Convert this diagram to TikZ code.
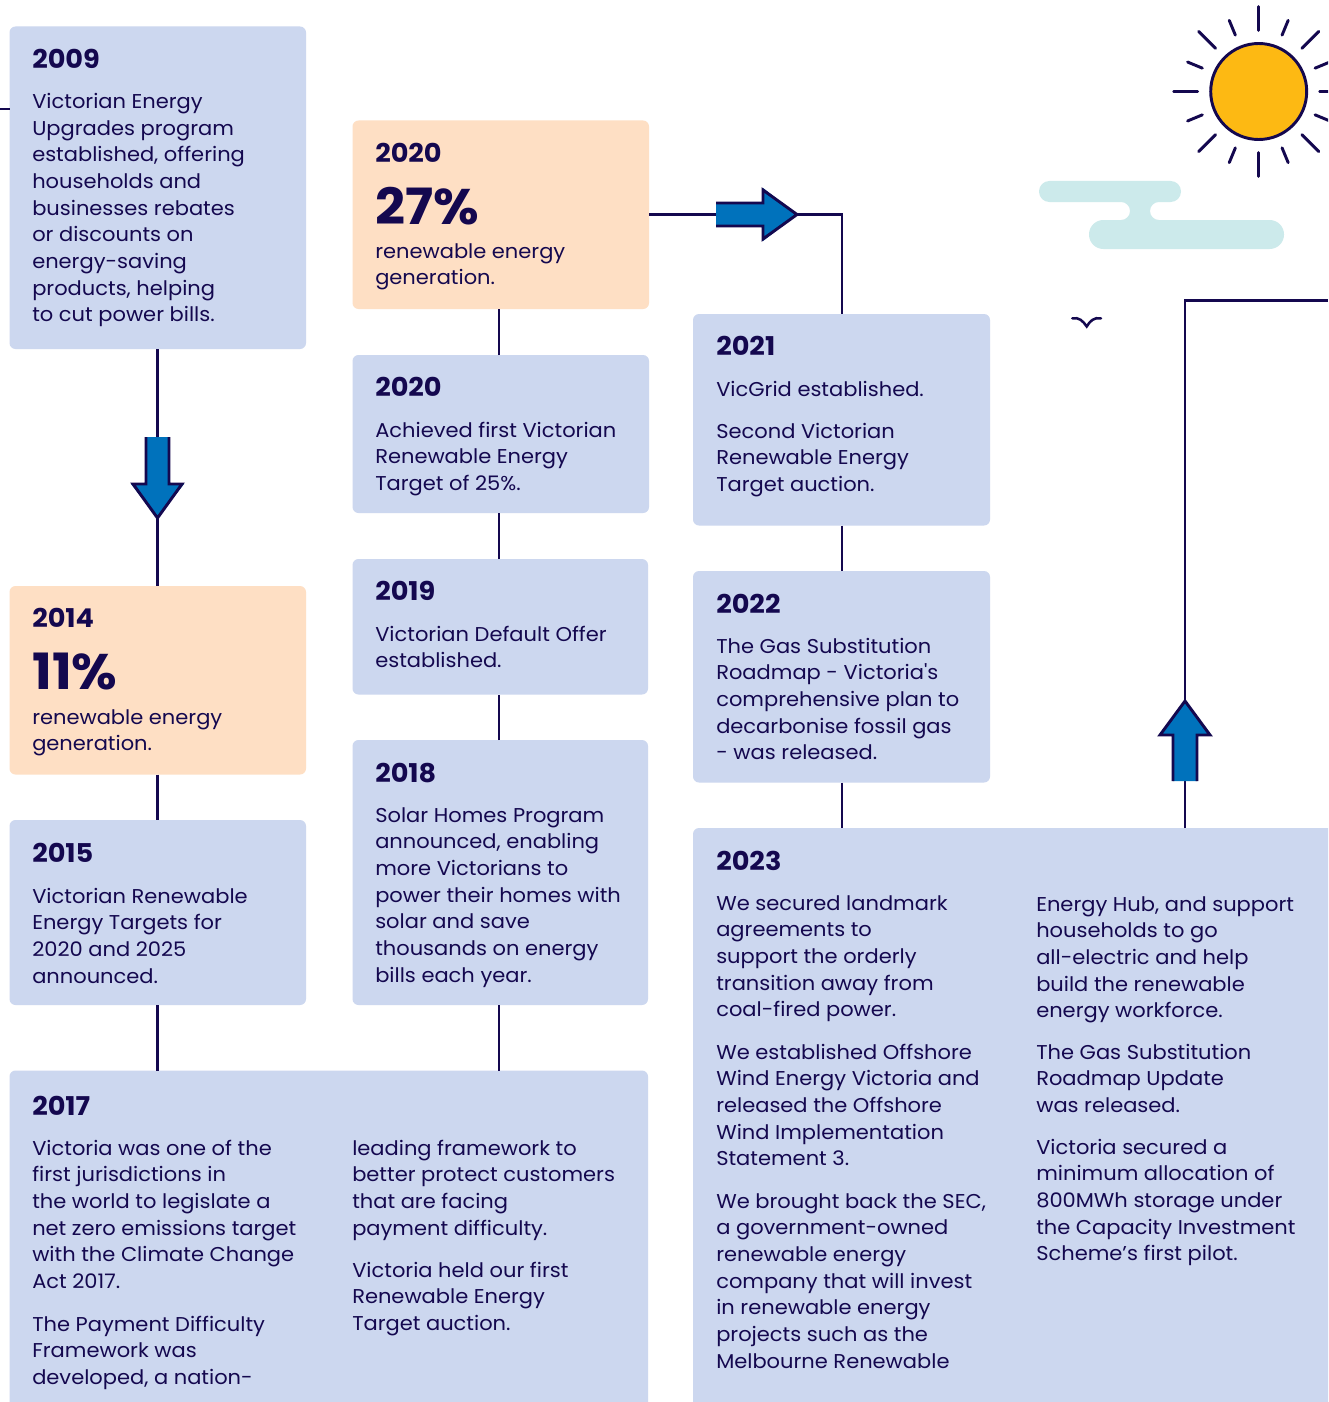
\documentclass[tikz,border=0pt]{standalone}
\usepackage{fontspec}
\setmainfont[Ligatures=TeXOff,FakeStretch=1.05]{Poppins}
\definecolor{navy}{HTML}{14084F}
\definecolor{bluebg}{HTML}{CCD7EF}
\definecolor{orangebg}{HTML}{FEDFC4}
\definecolor{cloudc}{HTML}{CCEAEB}
\definecolor{sunc}{HTML}{FDB913}
\definecolor{arrowc}{HTML}{0072BC}
\newcommand\BodyFont{\fontsize{15pt}{20pt}\selectfont}
\newcommand\HeadFont{\fontsize{19.4pt}{22pt}\bfseries\selectfont}
\newcommand\BigFont{\fontsize{37.5pt}{40pt}\bfseries\selectfont}
\newcommand\FirstStrut{\rule{0pt}{15pt}}
\tikzset{
  boxbase/.style={rounded corners=4.5pt,inner sep=0pt,outer sep=0pt},
  bluebox/.style={boxbase,fill=bluebg},
  orangebox/.style={boxbase,fill=orangebg},
  link/.style={draw=navy,line width=1.9pt},
  body/.style={font=\BodyFont,text=navy,align=left,inner sep=0pt,anchor=north west,yshift=14.4pt},
  head/.style={font=\HeadFont,text=navy,inner sep=0pt,anchor=base west,yshift=-0.75pt},
  bigtxt/.style={font=\BigFont,text=navy,inner sep=0pt,anchor=base west},
  ray/.style={draw=navy,line width=2.2pt,line cap=round},
  arrowfill/.style={fill=arrowc},
  arrowline/.style={draw=navy,line width=2.2pt,line join=miter},
}
\newcommand\Bx[6]{\node[#2,minimum width={(#5-#3)*0.75pt},minimum height={(#6-#4)*0.75pt}] (#1) at ({(#3+#5)/2},{(#4+#6)/2}) {};}
\newcommand\Tx[4]{\node[body] (#1) at (#2,#3) {\FirstStrut #4};}
\newcommand\Hd[4]{\node[head] (#1) at (#2,#3) {#4};}
\newcommand\Bg[4]{\node[bigtxt] (#1) at (#2,#3) {#4};}
\begin{document}
\begin{tikzpicture}[x=0.75pt,y=-0.75pt]
\clip (0,0) rectangle (1328,1402);
\fill[white] (0,0) rectangle (1328,1402);

% boxes
\Bx{b2009}{bluebox}{9.5}{26.5}{306}{349}
\Bx{b2014}{orangebox}{9.5}{586}{306}{774.5}
\Bx{b2015}{bluebox}{9.5}{820}{306}{1005}
\Bx{b2017}{bluebox}{9.5}{1070.5}{648}{1430}
\Bx{o2020}{orangebox}{352.5}{120.5}{649}{309}
\Bx{b2020}{bluebox}{352.5}{355}{649}{513}
\Bx{b2019}{bluebox}{352.5}{559}{648}{694.5}
\Bx{b2018}{bluebox}{352.5}{740}{648}{1005}
\Bx{b2021}{bluebox}{693}{314}{990}{525.5}
\Bx{b2022}{bluebox}{693}{571}{990}{782.5}
\Bx{b2023}{bluebox}{693}{828}{1360}{1430}

% guide coordinates
\coordinate (lefta) at (157.5,0);
\coordinate (midb) at (499,0);
\coordinate (rightc) at (842,0);
\coordinate (farc) at (1185,0);
\coordinate (stub) at (0,109);
\coordinate (turna) at (842,214.5);
\coordinate (turnb) at (1185,300.5);
\coordinate (exitb) at (1328,300.5);

% connectors
\draw[link] (stub) -- (stub -| b2009.west);
\draw[link] (b2009.south -| lefta) -- (b2014.north -| lefta);
\draw[link] (b2014.south -| lefta) -- (b2015.north -| lefta);
\draw[link] (b2015.south -| lefta) -- (b2017.north -| lefta);
\draw[link] (b2018.south -| midb) -- (b2017.north -| midb);
\draw[link] (b2018.north -| midb) -- (b2019.south -| midb);
\draw[link] (b2019.north -| midb) -- (b2020.south -| midb);
\draw[link] (b2020.north -| midb) -- (o2020.south -| midb);
\draw[link] (turna -| o2020.east) -- (turna) -- (b2021.north -| rightc);
\draw[link] (b2021.south -| rightc) -- (b2022.north -| rightc);
\draw[link] (b2022.south -| rightc) -- (b2023.north -| rightc);
\draw[link] (b2023.north -| farc) -- (turnb) -- (exitb);

% arrows
\fill[arrowfill] (146,437) -- (169,437) -- (169,484) -- (184,484) -- (157.5,518) -- (131,484) -- (146,484) -- cycle;
\draw[arrowline] (146,437) -- (146,484) -- (133,484) -- (157.5,518) -- (182,484) -- (169,484) -- (169,437);
\fill[arrowfill] (716,203) -- (763,203) -- (763,188) -- (797,214.5) -- (763,241) -- (763,226) -- (716,226) -- cycle;
\draw[arrowline] (716,203) -- (763,203) -- (763,190) -- (797,214.5) -- (763,239) -- (763,226) -- (716,226);
\fill[arrowfill] (1173,781) -- (1173,735) -- (1159,735) -- (1185,700) -- (1211,735) -- (1197,735) -- (1197,781) -- cycle;
\draw[arrowline] (1173,781) -- (1173,735) -- (1160,735) -- (1185,701) -- (1210,735) -- (1197,735) -- (1197,781);

% sun
\foreach \a in {0,45,...,315} \draw[ray] (1258.7,91.5) ++(\a:-61 and -61) -- ++(\a:-24 and -24);
\foreach \a in {22.5,67.5,...,337.5} \draw[ray] (1258.7,91.5) ++(\a:-61 and -61) -- ++(\a:-16 and -16);
\draw[draw=navy,fill=sunc,line width=2.2pt] (1258.7,91.5) circle[radius=36pt];

% cloud
\fill[cloudc] (1110,181) [rounded corners=7.8pt] -- (1181,181) -- (1181,202) [rounded corners=6.7pt] -- (1150,202) -- (1150,220) [rounded corners=10.8pt] -- (1284,220) -- (1284,249) -- (1089,249) -- (1089,220) [rounded corners=6.7pt] -- (1130,220) -- (1130,202) [rounded corners=7.8pt] -- (1039,202) -- (1039,181) -- cycle;

% bird
\draw[navy,line width=1.9pt,line cap=round] (1072.3,318.3) .. controls (1079,317) and (1083,321) .. (1086.7,326.5) .. controls (1090,321) and (1094,317) .. (1101,318.3);

% text 2009
\Hd{y2009}{32}{67.5}{2009}
\Tx{t2009}{32}{107.5}{Victorian Energy\\Upgrades program\\established, offering\\households and\\businesses rebates\\or discounts on\\energy-saving\\products, helping\\to cut power bills.}
% 2014
\Hd{y2014}{32}{626}{2014}
\Bg{p2014}{32}{689}{11\%}
\Tx{t2014}{32}{723}{renewable energy\\generation.}
% 2015
\Hd{y2015}{32}{861}{2015}
\Tx{t2015}{32}{902}{Victorian Renewable\\Energy Targets for\\2020 and 2025\\announced.}
% 2017
\Hd{y2017}{32}{1114}{2017}
\Tx{t2017a}{32}{1154}{Victoria was one of the\\first jurisdictions in\\the world to legislate a\\net zero emissions target\\with the Climate Change\\Act 2017.}
\Tx{t2017b}{32}{1330}{The Payment Difficulty\\Framework was\\developed, a nation-}
\Tx{t2017c}{352}{1154}{leading framework to\\better protect customers\\that are facing\\payment difficulty.}
\Tx{t2017d}{352}{1276}{Victoria held our first\\Renewable Energy\\Target auction.}
% 2020 orange
\Hd{y2020o}{375}{161.5}{2020}
\Bg{p2020}{375}{224}{27\%}
\Tx{t2020o}{375}{257}{renewable energy\\generation.}
% 2020
\Hd{y2020}{375}{395}{2020}
\Tx{t2020}{375}{436}{Achieved first Victorian\\Renewable Energy\\Target of 25\%.}
% 2019
\Hd{y2019}{375}{599}{2019}
\Tx{t2019}{375}{640}{Victorian Default Offer\\established.}
% 2018
\Hd{y2018}{375}{781}{2018}
\Tx{t2018}{375}{821}{Solar Homes Program\\announced, enabling\\more Victorians to\\power their homes with\\solar and save\\thousands on energy\\bills each year.}
% 2021
\Hd{y2021}{716}{354}{2021}
\Tx{t2021a}{716}{395}{VicGrid established.}
\Tx{t2021b}{716}{437}{Second Victorian\\Renewable Energy\\Target auction.}
% 2022
\Hd{y2022}{716}{612}{2022}
\Tx{t2022}{716}{652}{The Gas Substitution\\Roadmap - Victoria's\\comprehensive plan to\\decarbonise fossil gas\\- was released.}
% 2023
\Hd{y2023}{716}{869}{2023}
\Tx{t2023a}{716}{909}{We secured landmark\\agreements to\\support the orderly\\transition away from\\coal-fired power.}
\Tx{t2023b}{716}{1058}{We established Offshore\\Wind Energy Victoria and\\released the Offshore\\Wind Implementation\\Statement 3.}
\Tx{t2023c}{716}{1207}{We brought back the SEC,\\a government-owned\\renewable energy\\company that will invest\\in renewable energy\\projects such as the\\Melbourne Renewable}
\Tx{t2023d}{1036}{910}{Energy Hub, and support\\households to go\\all-electric and help\\build the renewable\\energy workforce.}
\Tx{t2023e}{1036}{1058}{The Gas Substitution\\Roadmap Update\\was released.}
\Tx{t2023f}{1036}{1153}{Victoria secured a\\minimum allocation of\\800MWh storage under\\the Capacity Investment\\Scheme’s first pilot.}
\end{tikzpicture}
\end{document}
